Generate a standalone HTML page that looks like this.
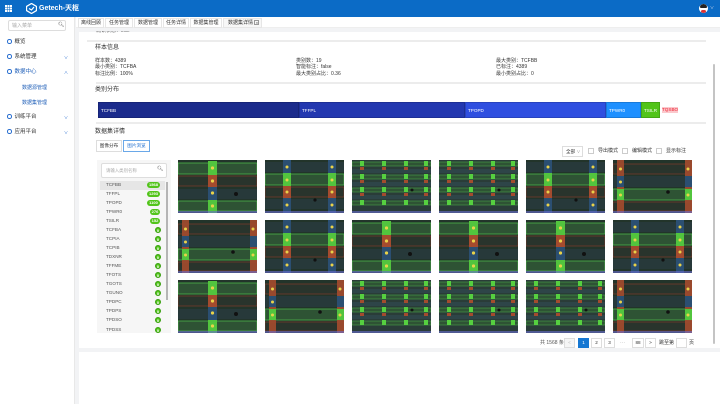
<!DOCTYPE html>
<html><head><meta charset="utf-8"><style>
*{box-sizing:border-box;margin:0;padding:0}
html,body{width:720px;height:404px;overflow:hidden}
body{background:#fff;font-family:"Liberation Sans","Noto Sans CJK SC",sans-serif;color:#333;position:relative}
.a{position:absolute;white-space:nowrap}
.t5{font-size:5px;line-height:6px}
.t6{font-size:6px;line-height:7px}
.tab{position:absolute;top:18px;height:10px;background:#fff;border:1px solid #e6e6e6;font-size:5px;line-height:8px;text-align:center;color:#333}
.mi{position:absolute;left:7px;font-size:5.5px;line-height:7px;color:#333}
.ic{display:inline-block;width:4.5px;height:4.5px;border:1px solid #2a6fd0;border-radius:50%;vertical-align:-0.5px;margin-right:3px}
.chev{position:absolute;left:64px;font-size:4px;color:#2a6fd0}
.li{position:absolute;left:106px;font-size:4.6px;line-height:6px;color:#555}
.bd{position:absolute;height:6px;background:#52c41a;color:#fff;font-size:4px;line-height:6px;border-radius:3px;text-align:center;font-weight:bold}
.z{position:absolute;left:155px;width:6px;height:6px;border-radius:50%;background:#52c41a;color:#fff;font-size:4px;line-height:6px;text-align:center;font-weight:bold;border:0.8px solid #3aa010}
.seg{position:absolute;top:102px;height:16px;color:#fff;font-size:4.6px;line-height:16px;padding-left:2px;border:0.7px solid rgba(0,0,0,.15)}
.th{position:absolute;width:79px;height:53px}
.pb{position:absolute;top:338px;height:10px;border:1px solid #ddd;background:#fff;font-size:4.6px;line-height:8px;text-align:center;color:#333}
.cb{position:absolute;top:148px;width:6px;height:6px;border:1px solid #ccc;background:#fff}
</style></head><body>

<svg width="0" height="0" style="position:absolute;left:0;top:0">
<defs>
<symbol id="tA" viewBox="0 0 79 53">
<rect width="79" height="53" fill="#22342a"/>
<rect x="0" y="3" width="79" height="11" fill="#2e5334" stroke="#4cb34a" stroke-width="0.8"/>
<rect x="0" y="16" width="79" height="10" fill="#29342c" stroke="#8e3c2b" stroke-width="0.6"/>
<rect x="0" y="29" width="79" height="10" fill="#27393a"/>
<rect x="0" y="41" width="79" height="10" fill="#2e5334" stroke="#4cb34a" stroke-width="0.8"/>
<rect x="30" y="1" width="9" height="14" fill="#52c43e"/>
<rect x="30" y="15" width="9" height="12" fill="#a44b2e"/>
<rect x="30" y="27" width="9" height="13" fill="#2b4f72"/>
<rect x="30" y="40" width="9" height="13" fill="#52c43e"/>
<circle cx="34.5" cy="8" r="1.6" fill="#e9d24a"/><circle cx="34.5" cy="21" r="1.6" fill="#e9d24a"/>
<circle cx="34.5" cy="33" r="1.6" fill="#e9d24a"/><circle cx="34.5" cy="46" r="1.6" fill="#e9d24a"/>
<circle cx="58" cy="34" r="2" fill="#111"/>
<rect x="0" y="51" width="79" height="2" fill="#6b6ed0" opacity=".6"/>
</symbol>
<symbol id="tC" viewBox="0 0 79 53">
<rect width="79" height="53" fill="#22342a"/>
<rect x="0" y="2" width="79" height="10" fill="#27393a"/>
<rect x="0" y="14" width="79" height="11" fill="#2e5334" stroke="#4cb34a" stroke-width="0.8"/>
<rect x="0" y="27" width="79" height="10" fill="#29342c" stroke="#8e3c2b" stroke-width="0.6"/>
<rect x="0" y="39" width="79" height="10" fill="#27393a"/>
<rect x="18" y="0" width="8" height="13" fill="#2b4f72"/>
<rect x="18" y="13" width="8" height="13" fill="#52c43e"/>
<rect x="18" y="26" width="8" height="12" fill="#a44b2e"/>
<rect x="18" y="38" width="8" height="15" fill="#2b4f72"/>
<rect x="63" y="0" width="8" height="13" fill="#2b4f72"/>
<rect x="63" y="13" width="8" height="13" fill="#52c43e"/>
<rect x="63" y="26" width="8" height="12" fill="#a44b2e"/>
<rect x="63" y="38" width="8" height="15" fill="#2b4f72"/>
<circle cx="22" cy="7" r="1.5" fill="#e9d24a"/><circle cx="22" cy="20" r="1.5" fill="#e9d24a"/><circle cx="22" cy="32" r="1.5" fill="#e9d24a"/><circle cx="22" cy="45" r="1.5" fill="#e9d24a"/>
<circle cx="67" cy="7" r="1.5" fill="#e9d24a"/><circle cx="67" cy="20" r="1.5" fill="#e9d24a"/><circle cx="67" cy="32" r="1.5" fill="#e9d24a"/><circle cx="67" cy="45" r="1.5" fill="#e9d24a"/>
<circle cx="50" cy="40" r="1.6" fill="#111"/>
<rect x="0" y="51" width="79" height="2" fill="#6b6ed0" opacity=".6"/>
</symbol>
<symbol id="tB" viewBox="0 0 79 53">
<rect width="79" height="53" fill="#2a3c38"/>
<rect x="0" y="2" width="79" height="4" fill="#2e5334" stroke="#4cb34a" stroke-width="0.5"/>
<rect x="0" y="9" width="79" height="4" fill="#2e4548"/>
<rect x="0" y="15" width="79" height="4" fill="#2e5334" stroke="#4cb34a" stroke-width="0.5"/>
<rect x="0" y="22" width="79" height="4" fill="#2e4548"/>
<rect x="0" y="28" width="79" height="4" fill="#2e5334" stroke="#4cb34a" stroke-width="0.5"/>
<rect x="0" y="35" width="79" height="4" fill="#2e4548"/>
<rect x="0" y="41" width="79" height="4" fill="#2e5334" stroke="#4cb34a" stroke-width="0.5"/>
<g fill="#a44b2e"><rect x="8" y="7" width="4" height="3"/><rect x="30" y="7" width="4" height="3"/><rect x="52" y="7" width="4" height="3"/><rect x="72" y="7" width="4" height="3"/>
<rect x="8" y="20" width="4" height="3"/><rect x="30" y="20" width="4" height="3"/><rect x="52" y="20" width="4" height="3"/><rect x="72" y="20" width="4" height="3"/>
<rect x="8" y="33" width="4" height="3"/><rect x="30" y="33" width="4" height="3"/><rect x="52" y="33" width="4" height="3"/><rect x="72" y="33" width="4" height="3"/></g>
<g fill="#56d040"><rect x="8" y="1" width="4" height="5"/><rect x="30" y="1" width="4" height="5"/><rect x="52" y="1" width="4" height="5"/><rect x="72" y="1" width="4" height="5"/>
<rect x="8" y="14" width="4" height="5"/><rect x="30" y="14" width="4" height="5"/><rect x="52" y="14" width="4" height="5"/><rect x="72" y="14" width="4" height="5"/>
<rect x="8" y="27" width="4" height="5"/><rect x="30" y="27" width="4" height="5"/><rect x="52" y="27" width="4" height="5"/><rect x="72" y="27" width="4" height="5"/>
<rect x="8" y="40" width="4" height="5"/><rect x="30" y="40" width="4" height="5"/><rect x="52" y="40" width="4" height="5"/><rect x="72" y="40" width="4" height="5"/></g>
<circle cx="60" cy="30" r="1.5" fill="#111"/>
<rect x="0" y="51" width="79" height="2" fill="#6b6ed0" opacity=".6"/>
</symbol>
<symbol id="tD" viewBox="0 0 79 53">
<rect width="79" height="53" fill="#22342a"/>
<rect x="0" y="4" width="79" height="10" fill="#29342c" stroke="#8e3c2b" stroke-width="0.6"/>
<rect x="0" y="16" width="79" height="11" fill="#27393a"/>
<rect x="0" y="29" width="79" height="11" fill="#2e5334" stroke="#4cb34a" stroke-width="0.8"/>
<rect x="0" y="42" width="79" height="9" fill="#29342c" stroke="#8e3c2b" stroke-width="0.6"/>
<rect x="72" y="0" width="7" height="53" fill="#a44b2e" opacity=".9"/>
<rect x="4" y="0" width="7" height="53" fill="#a44b2e" opacity=".9"/>
<rect x="4" y="29" width="7" height="11" fill="#52c43e"/><rect x="72" y="29" width="7" height="11" fill="#52c43e"/>
<rect x="4" y="16" width="7" height="11" fill="#2b4f72"/><rect x="72" y="16" width="7" height="11" fill="#2b4f72"/>
<circle cx="7.5" cy="9" r="1.5" fill="#e9d24a"/><circle cx="7.5" cy="22" r="1.5" fill="#e9d24a"/><circle cx="7.5" cy="35" r="1.5" fill="#e9d24a"/>
<circle cx="75" cy="9" r="1.5" fill="#e9d24a"/><circle cx="75" cy="35" r="1.5" fill="#e9d24a"/>
<circle cx="55" cy="32" r="1.8" fill="#111"/>
<rect x="0" y="51" width="79" height="2" fill="#6b6ed0" opacity=".6"/>
</symbol>
</defs></svg>

<!-- header -->
<div class="a" style="left:0;top:0;width:720px;height:17px;background:#0b6bc6"></div>
<svg class="a" style="left:5px;top:5px" width="7" height="7"><g fill="#fff"><rect x="0" y="0" width="2" height="2"/><rect x="2.5" y="0" width="2" height="2"/><rect x="5" y="0" width="2" height="2"/><rect x="0" y="2.5" width="2" height="2"/><rect x="2.5" y="2.5" width="2" height="2"/><rect x="5" y="2.5" width="2" height="2"/><rect x="0" y="5" width="2" height="2"/><rect x="2.5" y="5" width="2" height="2"/><rect x="5" y="5" width="2" height="2"/></g></svg>
<svg class="a" style="left:26px;top:3px" width="11" height="11"><path d="M5.5 0.5 L10.5 3.5 L10.5 7.5 L5.5 10.5 L0.5 7.5 L0.5 3.5Z" fill="none" stroke="#fff" stroke-width="1.3"/><path d="M3 5.5 L5.5 7 L8 4" fill="none" stroke="#fff" stroke-width="1.2"/></svg>
<div class="a" style="left:39px;top:4px;font-size:7px;line-height:9px;color:#fff;font-weight:bold">Getech-天枢</div>
<div class="a" style="left:699px;top:4px;width:9px;height:9px;border-radius:50%;background:#fff;overflow:hidden"><div style="position:absolute;left:1px;top:0;width:7px;height:4px;background:#222;border-radius:3px 3px 1px 1px"></div><div style="position:absolute;left:2px;top:6px;width:5px;height:3px;background:#d33;border-radius:2px"></div></div>
<div class="a" style="left:710px;top:5px;font-size:4px;color:#dde">∨</div>

<!-- sidebar -->
<div class="a" style="left:0;top:17px;width:75px;height:387px;background:#fff;border-right:1px solid #e8e8e8"></div>
<div class="a" style="left:8px;top:20px;width:58px;height:11px;border:1px solid #ddd;border-radius:2px"></div>
<div class="a t5" style="left:12px;top:23px;color:#aaa">输入菜单</div>
<div class="a" style="left:58px;top:22px;font-size:5px;color:#555">&#x1F50D;&#xFE0E;</div>
<div class="mi" style="top:39px"><span class="ic"></span>概览</div>
<div class="mi" style="top:54px"><span class="ic"></span>系统管理</div><div class="chev" style="top:55px">∨</div>
<div class="mi" style="top:69px;color:#1f5fb8"><span class="ic"></span>数据中心</div><div class="chev" style="top:70px">∧</div>
<div class="mi" style="left:22px;top:85px;color:#1f5fb8;font-size:5px">数据源管理</div>
<div class="mi" style="left:22px;top:100px;color:#1f5fb8;font-size:5px">数据集管理</div>
<div class="mi" style="top:114px"><span class="ic"></span>训练平台</div><div class="chev" style="top:115px">∨</div>
<div class="mi" style="top:129px"><span class="ic"></span>应用平台</div><div class="chev" style="top:130px">∨</div>

<!-- gray background strips -->
<div class="a" style="left:75px;top:17px;width:645px;height:387px;background:#f2f3f5"></div>
<div class="a" style="left:76px;top:17px;width:644px;height:11px;background:#fff;border-bottom:1px solid #eee"></div>
<div class="tab" style="left:78px;width:26px">离线回顾</div>
<div class="tab" style="left:105px;width:28px">任务管理</div>
<div class="tab" style="left:134px;width:28px">数据管理</div>
<div class="tab" style="left:163px;width:26px">任务详情</div>
<div class="tab" style="left:190px;width:32px">数据集管理</div>
<div class="tab" style="left:223px;width:39px;background:#f7f7f7;text-align:left;padding-left:4px">数据集详情 <span style="display:inline-block;width:5px;height:5px;border:0.5px solid #999;font-size:4px;line-height:4px;text-align:center">×</span></div>

<!-- main card -->
<div class="a" style="left:79px;top:32px;width:628px;height:316px;background:#fff;overflow:hidden"></div>
<div class="a" style="left:707px;top:32px;width:13px;height:316px;background:#fff"></div>
<div class="a" style="left:713px;top:64px;width:2px;height:280px;background:#c4c4c4;border-radius:1px"></div>
<div class="a" style="left:79px;top:352px;width:641px;height:52px;background:#fff"></div>
<div class="a t5" style="left:96px;top:31px;color:#666;height:4px;overflow:hidden"><span style="position:relative;top:-3px">确认状态：true</span></div>
<div class="a" style="left:87px;top:40px;width:619px;height:2px;background:#ececec"></div>
<div class="a t6" style="left:95px;top:45px">样本信息</div>
<div class="a t5" style="left:95px;top:58px">样本数：4389</div>
<div class="a t5" style="left:95px;top:64px">最小类别：TCFBA</div>
<div class="a t5" style="left:95px;top:71px">标注比例：100%</div>
<div class="a t5" style="left:296px;top:58px">类别数：19</div>
<div class="a t5" style="left:296px;top:64px">智能标注：false</div>
<div class="a t5" style="left:296px;top:71px">最大类别占比：0.36</div>
<div class="a t5" style="left:496px;top:58px">最大类别：TCFBB</div>
<div class="a t5" style="left:496px;top:64px">已标注：4389</div>
<div class="a t5" style="left:496px;top:71px">最小类别占比：0</div>
<div class="a" style="left:96px;top:82px;width:610px;height:2px;background:#ececec"></div>
<div class="a t6" style="left:95px;top:87px">类别分布</div>
<div class="seg" style="left:98px;width:201px;background:#1b2b8c">TCFBB</div>
<div class="seg" style="left:299px;width:166px;background:#2338b0">TFFPL</div>
<div class="seg" style="left:465px;width:141px;background:#2f4fe0">TPOPD</div>
<div class="seg" style="left:606px;width:35px;background:#1e90ff">TPWR0</div>
<div class="seg" style="left:641px;width:19px;background:#52c41a">TSILR</div>
<div class="a" style="left:662px;top:107px;height:6px;font-size:4.6px;line-height:6px;color:#e23;background:#fbc8cc">TQSBO</div>
<div class="a" style="left:96px;top:122px;width:610px;height:2px;background:#ececec"></div>
<div class="a t6" style="left:95px;top:129px">数据集详情</div>
<div class="a" style="left:96px;top:140px;width:26px;height:12px;border:1px solid #ddd;font-size:4.6px;line-height:10px;text-align:center">图像分布</div>
<div class="a" style="left:123px;top:140px;width:27px;height:12px;border:1px solid #6aa8e8;font-size:4.6px;line-height:10px;text-align:center;color:#1f6fd0">图片浏览</div>

<div class="a" style="left:562px;top:146px;width:21px;height:11px;border:1px solid #ddd;font-size:4.6px;line-height:9px;padding-left:3px">全部 <span style="font-size:4px;color:#999">∨</span></div>
<div class="cb" style="left:588px"></div><div class="a t5" style="left:598px;top:148px">导出模式</div>
<div class="cb" style="left:622px"></div><div class="a t5" style="left:632px;top:148px">编辑模式</div>
<div class="cb" style="left:656px"></div><div class="a t5" style="left:666px;top:148px">显示标注</div>

<!-- list panel -->
<div class="a" style="left:97px;top:160px;width:74px;height:173px;background:#f6f6f6"></div>
<div class="a" style="left:101px;top:163px;width:66px;height:15px;background:#fff;border:1px solid #ddd;border-radius:2px"></div>
<div class="a" style="left:106px;top:168px;font-size:4.4px;line-height:5px;color:#aaa">请输入类别名称</div>
<div class="a" style="left:157px;top:166px;font-size:5px;color:#555">&#x1F50D;&#xFE0E;</div>
<div class="a" style="left:100px;top:181px;width:65px;height:9px;background:#e6e6e6"></div>
<div class="a" style="left:166px;top:182px;width:2px;height:118px;background:#b5b5b5"></div>
<div class="a" style="left:97px;top:160px;width:74px;height:173px;overflow:hidden">
<div style="position:absolute;left:-97px;top:-160px;width:300px;height:404px">
<div class="li" style="top:182px">TCFBB</div><div class="bd" style="left:147px;top:182px;width:13px">1568</div>
<div class="li" style="top:191px">TFFPL</div><div class="bd" style="left:147px;top:191px;width:13px">1293</div>
<div class="li" style="top:200px">TPOPD</div><div class="bd" style="left:147px;top:200px;width:13px">1100</div>
<div class="li" style="top:209px">TPWR0</div><div class="bd" style="left:150px;top:209px;width:10px">276</div>
<div class="li" style="top:218px">TSILR</div><div class="bd" style="left:150px;top:218px;width:10px">152</div>
<div class="li" style="top:227px">TCFBA</div><div class="z" style="top:227px">0</div>
<div class="li" style="top:236px">TCPIA</div><div class="z" style="top:236px">0</div>
<div class="li" style="top:245px">TCPIB</div><div class="z" style="top:245px">0</div>
<div class="li" style="top:254px">TDXNR</div><div class="z" style="top:254px">0</div>
<div class="li" style="top:263px">TFFME</div><div class="z" style="top:263px">0</div>
<div class="li" style="top:272px">TFOTS</div><div class="z" style="top:272px">0</div>
<div class="li" style="top:281px">TGOTS</div><div class="z" style="top:281px">0</div>
<div class="li" style="top:290px">TGUNO</div><div class="z" style="top:290px">0</div>
<div class="li" style="top:299px">TPDPC</div><div class="z" style="top:299px">0</div>
<div class="li" style="top:308px">TPDPS</div><div class="z" style="top:308px">0</div>
<div class="li" style="top:317px">TPDSO</div><div class="z" style="top:317px">0</div>
<div class="li" style="top:327px">TPDSS</div><div class="z" style="top:327px">0</div>
</div></div>

<!-- thumbnails -->
<svg class="th" style="left:178px;top:160px"><use href="#tA"/></svg>
<svg class="th" style="left:265px;top:160px"><use href="#tC"/></svg>
<svg class="th" style="left:352px;top:160px"><use href="#tB"/></svg>
<svg class="th" style="left:439px;top:160px"><use href="#tB"/></svg>
<svg class="th" style="left:526px;top:160px"><use href="#tC"/></svg>
<svg class="th" style="left:613px;top:160px"><use href="#tD"/></svg>
<svg class="th" style="left:178px;top:220px"><use href="#tD"/></svg>
<svg class="th" style="left:265px;top:220px"><use href="#tC"/></svg>
<svg class="th" style="left:352px;top:220px"><use href="#tA"/></svg>
<svg class="th" style="left:439px;top:220px"><use href="#tA"/></svg>
<svg class="th" style="left:526px;top:220px"><use href="#tA"/></svg>
<svg class="th" style="left:613px;top:220px"><use href="#tC"/></svg>
<svg class="th" style="left:178px;top:280px"><use href="#tA"/></svg>
<svg class="th" style="left:265px;top:280px"><use href="#tD"/></svg>
<svg class="th" style="left:352px;top:280px"><use href="#tB"/></svg>
<svg class="th" style="left:439px;top:280px"><use href="#tB"/></svg>
<svg class="th" style="left:526px;top:280px"><use href="#tB"/></svg>
<svg class="th" style="left:613px;top:280px"><use href="#tD"/></svg>

<!-- pagination -->
<div class="a t5" style="left:540px;top:340px;color:#555">共 1568 条</div>
<div class="pb" style="left:564px;width:11px;background:#f5f5f5;color:#bbb">&lt;</div>
<div class="pb" style="left:578px;width:11px;background:#1677d2;border-color:#1677d2;color:#fff">1</div>
<div class="pb" style="left:591px;width:11px">2</div>
<div class="pb" style="left:604px;width:11px">3</div>
<div class="a t5" style="left:620px;top:340px;color:#aaa">···</div>
<div class="pb" style="left:632px;width:12px">88</div>
<div class="pb" style="left:645px;width:11px">&gt;</div>
<div class="a t5" style="left:659px;top:340px">跳至第</div>
<div class="pb" style="left:676px;width:11px"></div>
<div class="a t5" style="left:689px;top:340px">页</div>
</body></html>
